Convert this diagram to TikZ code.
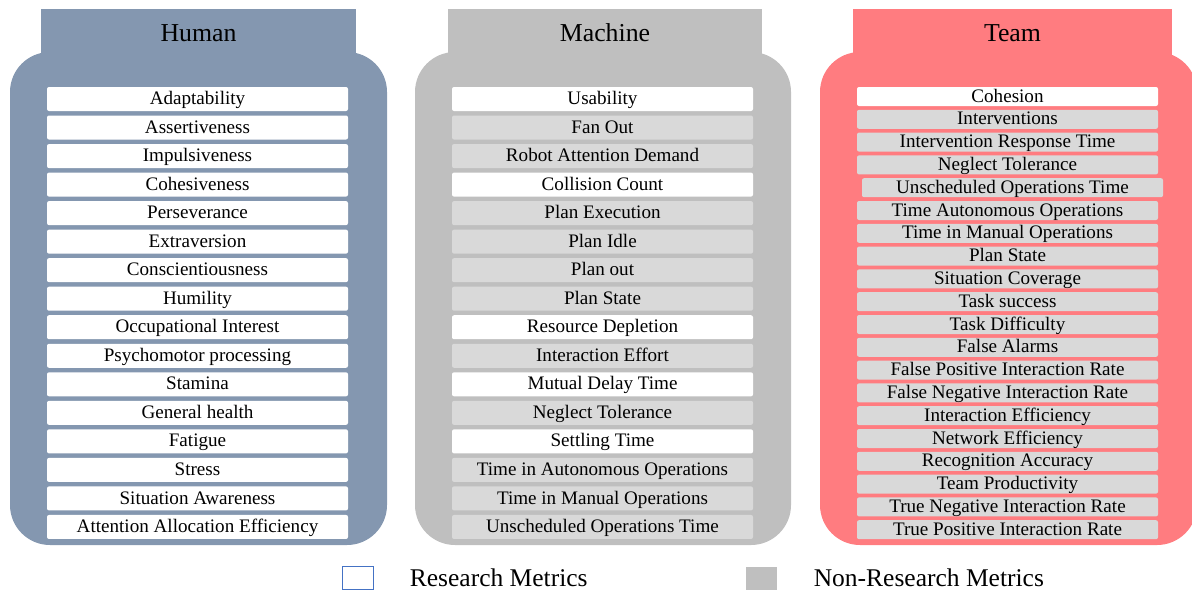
\documentclass[tikz,border=0pt]{standalone}
\usepackage{fontspec}
\setmainfont{Liberation Serif}
\usetikzlibrary{positioning}
\definecolor{humanblue}{HTML}{8497B0}
\definecolor{machinegray}{HTML}{BFBFBF}
\definecolor{teamred}{HTML}{FF7C80}
\definecolor{metricgray}{HTML}{D9D9D9}
\definecolor{legendblue}{HTML}{4472C4}

\tikzset{
  metric/.style={rectangle, rounded corners=1pt, minimum width=150.5pt, minimum height=12pt, inner sep=0pt,
    text height=6.3pt, text depth=0.7pt, font=\fontsize{9.55}{10}\selectfont},
  tmetric/.style={metric, minimum height=9.5pt},
  coltitle/.style={font=\fontsize{12.9}{14}\selectfont},
  legendtxt/.style={inner sep=0pt, font=\fontsize{12.75}{14}\selectfont},
  legendbox/.style={minimum width=15.5pt, minimum height=11.5pt, inner sep=0pt}
}

\begin{document}
\begin{tikzpicture}[x=0.5pt,y=-0.5pt]
\useasboundingbox (0,0) rectangle (1192,595);

% columns
\fill[humanblue] (41,9) rectangle (356,60);
\fill[humanblue, rounded corners=20pt] (10,52) rectangle (387,545);
\fill[machinegray] (448,9) rectangle (762,60);
\fill[machinegray, rounded corners=20pt] (415,52) rectangle (791,545);
\fill[teamred] (853,9) rectangle (1172,60);
\fill[teamred, rounded corners=20pt] (820,52) rectangle (1197,545);

\node[coltitle] (human) at (198.5,33) {Human};
\node[coltitle] (machine) at (605,33) {Machine};
\node[coltitle] (team) at (1012.5,33) {Team};

% human metrics
\foreach \txt [count=\i] in {Adaptability, Assertiveness, Impulsiveness, Cohesiveness,
  Perseverance, Extraversion, Conscientiousness, Humility, Occupational Interest,
  Psychomotor processing, Stamina, General health, Fatigue, Stress,
  Situation Awareness, Attention Allocation Efficiency}
  \node[metric, fill=white] (h-\i) at (197.5,{99+28.53*(\i-1)}) {\txt};

% machine metrics
\foreach \txt/\col [count=\i] in {Usability/white, Fan Out/metricgray,
  Robot Attention Demand/metricgray, Collision Count/white,
  Plan Execution/metricgray, Plan Idle/metricgray, Plan out/metricgray,
  Plan State/metricgray, Resource Depletion/white, Interaction Effort/metricgray,
  Mutual Delay Time/white, Neglect Tolerance/metricgray, Settling Time/white,
  Time in Autonomous Operations/metricgray, Time in Manual Operations/metricgray,
  Unscheduled Operations Time/metricgray}
  \node[metric, fill=\col] (m-\i) at (602.5,{99+28.53*(\i-1)}) {\txt};

% team metrics
\foreach \txt/\col/\dx [count=\i] in {Cohesion/white/0, Interventions/metricgray/0,
  Intervention Response Time/metricgray/0, Neglect Tolerance/metricgray/0,
  Unscheduled Operations Time/metricgray/5, Time Autonomous Operations/metricgray/0,
  Time in Manual Operations/metricgray/0, Plan State/metricgray/0,
  Situation Coverage/metricgray/0, Task success/metricgray/0,
  Task Difficulty/metricgray/0, False Alarms/metricgray/0,
  False Positive Interaction Rate/metricgray/0, False Negative Interaction Rate/metricgray/0,
  Interaction Efficiency/metricgray/0, Network Efficiency/metricgray/0,
  Recognition Accuracy/metricgray/0, Team Productivity/metricgray/0,
  True Negative Interaction Rate/metricgray/0, True Positive Interaction Rate/metricgray/0}
  \node[tmetric, fill=\col] (t-\i) at ({1007.5+\dx},{96.5+22.8*(\i-1)}) {\txt};

% legend
\node[legendbox, draw=legendblue, line width=0.5pt, fill=white] (resbox) at (357.5,578) {};
\node[legendtxt, right=18pt of resbox] (reslabel) {Research Metrics};
\node[legendbox, fill=machinegray] (nonresbox) at (761.5,578) {};
\node[legendtxt, right=18pt of nonresbox] (nonreslabel) {Non-Research Metrics};
\end{tikzpicture}
\end{document}
